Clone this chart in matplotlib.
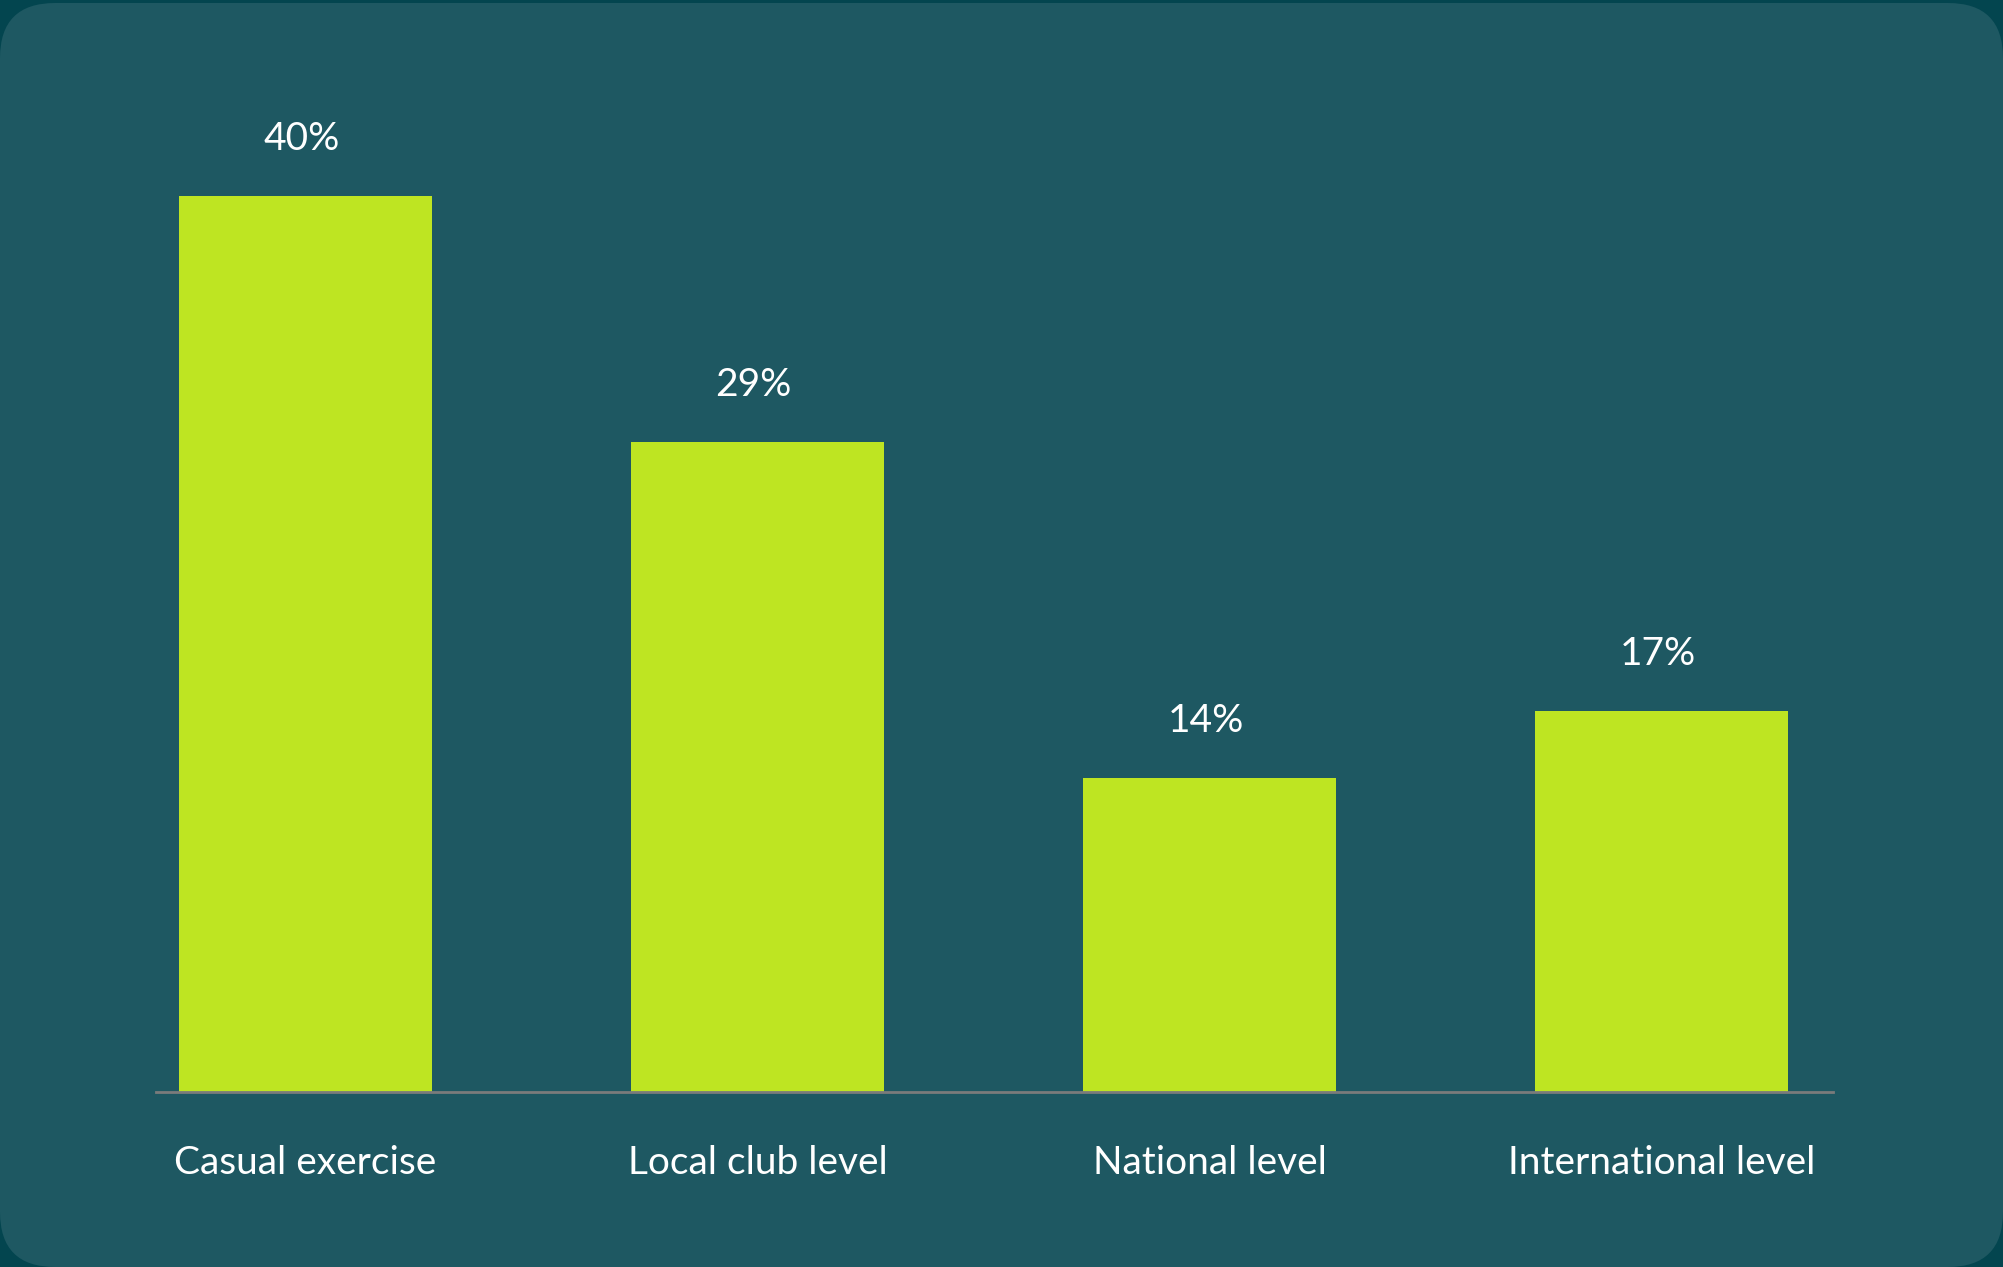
import matplotlib.pyplot as plt
from matplotlib.patches import FancyBboxPatch

categories = ['Casual exercise', 'Local club level', 'National level', 'International level']
shares = [40, 29, 14, 17]
value_labels = ['40%', '29%', '14%', '17%']

W, H = 2003, 1267
fig = plt.figure(figsize=(W / 100, H / 100), dpi=100)
fig.patch.set_facecolor('#03454f')

# rounded card behind the chart, drawn on a full-figure axes in pixel units
bg = fig.add_axes([0, 0, 1, 1])
bg.set_xlim(0, W)
bg.set_ylim(0, H)
bg.axis('off')
r = 55
bg.add_patch(FancyBboxPatch((r, r), W - 2 * r, H - 3 - 2 * r,
                            boxstyle='round,pad=%d' % r,
                            facecolor='#1e5862', edgecolor='none'))

ax = fig.add_axes([156 / W, 1 - 1092 / H, (1833 - 156) / W, (1092 - 84) / H])
ax.set_facecolor('none')

x = range(len(categories))
ax.bar(x, shares, width=0.56, color='#bee522', zorder=2)

ax.set_xlim(-0.331, 3.379)
ax.set_ylim(0, 45)

for xi, v, lab in zip(x, shares, value_labels):
    ax.annotate(lab, (xi, v), xytext=(-4, 46), textcoords='offset pixels',
                ha='center', va='baseline', color='white', fontsize=28,
                family='Lato')

for s in ['top', 'right', 'left']:
    ax.spines[s].set_visible(False)
ax.spines['bottom'].set_color('#7b7b7b')
ax.spines['bottom'].set_linewidth(2)
ax.set_yticks([])
ax.set_xticks(list(x))
ax.set_xticklabels(categories, color='white', fontsize=28, family='Lato')
ax.tick_params(axis='x', length=0, pad=38)

fig.savefig('out.png', dpi=100, facecolor=fig.get_facecolor())
